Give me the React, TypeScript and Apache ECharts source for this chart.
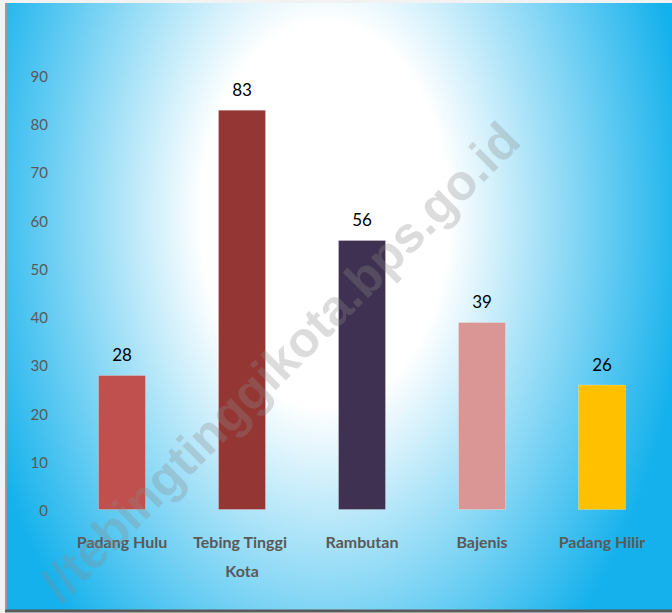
import React, { useEffect, useRef } from "react";
import * as echarts from "echarts";

const categories = ["Padang Hulu", "Tebing Tinggi Kota", "Rambutan", "Bajenis", "Padang Hilir"];
const values = [28, 83, 56, 39, 26];
const barColors = ["#C0504D", "#943634", "#3F3151", "#D99694", "#FFC000"];
const yTicks = { min: 0, max: 90, interval: 10 };
const watermark = "//tebingtinggikota.bps.go.id";

const FONT = "Lato, 'Open Sans', sans-serif";
const S = 1.55;

export default function App() {
  const ref = useRef<HTMLDivElement>(null);
  useEffect(() => {
    document.body.style.margin = "0";
    const chart = echarts.init(ref.current!, null, { renderer: "svg" });
    chart.setOption({
      animation: false,
      backgroundColor: "#f2f2f2",
      graphic: [
        {
          type: "rect",
          z: -10,
          silent: true,
          scaleY: S,
          shape: { x: 7, y: 3 / S, width: 665, height: 607 / S },
          style: {
            fill: new echarts.graphic.RadialGradient(
              325,
              215 / S,
              365,
              [
                { offset: 0, color: "#ffffff" },
                { offset: 0.34, color: "#ffffff" },
                { offset: 1, color: "#14b1ec" },
              ],
              true
            ),
          },
        },
        {
          type: "line",
          silent: true,
          shape: { x1: 6, y1: 3, x2: 6, y2: 611 },
          style: { stroke: "#9a9a9a", lineWidth: 2 },
        },
        {
          type: "line",
          silent: true,
          shape: { x1: 5, y1: 611, x2: 672, y2: 611 },
          style: { stroke: "#5a5a5a", lineWidth: 3 },
        },
        {
          type: "text",
          silent: true,
          z: 100,
          x: 280,
          y: 362,
          rotation: Math.PI / 4,
          style: {
            text: watermark,
            font: "bold 50px 'Liberation Sans', Arial, sans-serif",
            fill: "rgba(140,140,140,0.3)",
            align: "center",
            verticalAlign: "middle",
          },
        },
      ],
      grid: { left: 62, right: 10, top: 76, bottom: 103 },
      xAxis: {
        type: "category",
        data: categories,
        axisLine: { show: false },
        axisTick: { show: false },
        axisLabel: {
          color: "#595959",
          fontFamily: FONT,
          fontWeight: "bold",
          fontSize: 16,
          lineHeight: 29,
          margin: 17,
          width: 112,
          overflow: "break",
          interval: 0,
        },
      },
      yAxis: {
        type: "value",
        min: yTicks.min,
        max: yTicks.max,
        interval: yTicks.interval,
        axisLine: { show: false },
        axisTick: { show: false },
        splitLine: { show: false },
        axisLabel: { color: "#595959", fontFamily: FONT, fontSize: 15, margin: 14 },
      },
      series: [
        {
          type: "bar",
          barWidth: "40%",
          data: values.map((v, i) => ({
            value: v,
            itemStyle: { color: barColors[i], borderColor: "rgba(255,255,255,0.25)", borderWidth: 1 },
          })),
          label: {
            show: true,
            position: "top",
            distance: 12,
            color: "#000000",
            fontFamily: FONT,
            fontSize: 17,
          },
        },
      ],
    });
    return () => chart.dispose();
  }, []);
  return <div ref={ref} style={{ width: 672, height: 613 }} />;
}
